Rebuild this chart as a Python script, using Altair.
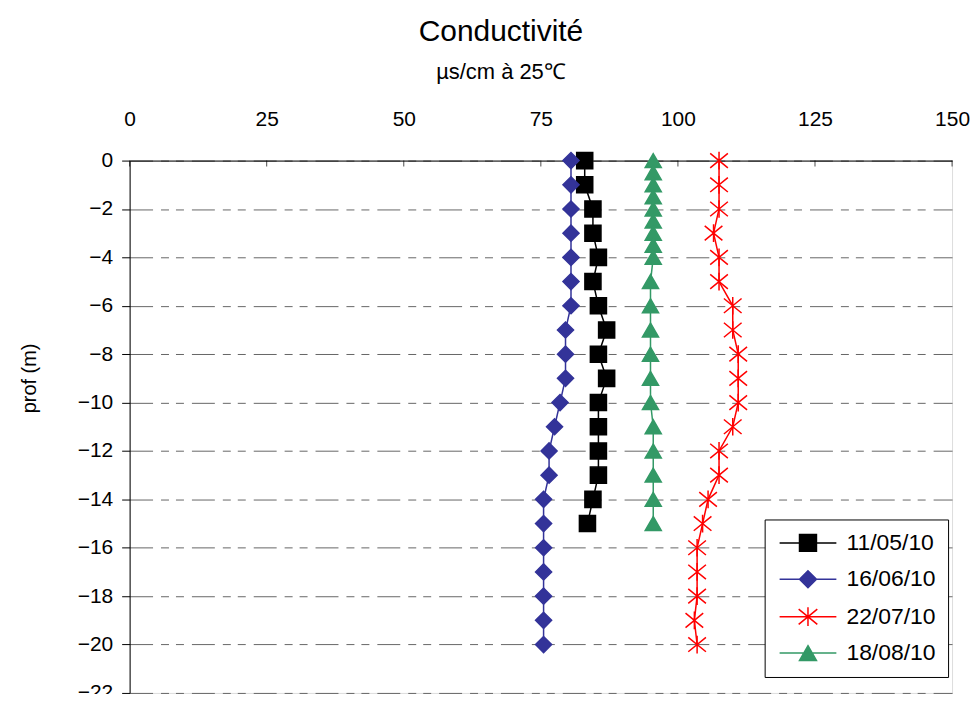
import altair as alt
import pandas as pd

FONT = "Liberation Sans"

series_names = ["11/05/10", "16/06/10", "22/07/10", "18/08/10"]
series_colors = ["#000000", "#333399", "#FF0000", "#339966"]
STAR = "M-1.1,-0.9L1.1,0.9M-1.1,0.9L1.1,-0.9M0,-1.1V1.1"
series_shapes = ["square", "diamond", STAR, "triangle-up"]
# legend symbols: a line with the marker in its middle
legend_shapes = [
    "M-1,0H5.7M1.35,-1H3.35V1H1.35Z",
    "M-1,0H5.7M1.35,0L2.35,-1L3.35,0L2.35,1Z",
    "M-1,0H5.7M1.25,-0.9L3.45,0.9M1.25,0.9L3.45,-0.9M2.35,-1.1V1.1",
    "M-1,0H5.7M2.35,-0.866L3.35,0.866L1.35,0.866Z",
]

x_ticks = [0, 25, 50, 75, 100, 125, 150]
y_ticks = [0, -2, -4, -6, -8, -10, -12, -14, -16, -18, -20, -22]

depth_1105 = [0, -1, -2, -3, -4, -5, -6, -7, -8, -9, -10, -11, -12, -13, -14, -15]
cond_1105 = [83, 83, 84.5, 84.5, 85.5, 84.5, 85.5, 87, 85.5, 87, 85.5, 85.5,
             85.5, 85.5, 84.5, 83.5]

depth_1606 = [0, -1, -2, -3, -4, -5, -6, -7, -8, -9, -10, -11, -12, -13, -14,
              -15, -16, -17, -18, -19, -20]
cond_1606 = [80.5, 80.5, 80.5, 80.5, 80.5, 80.5, 80.5, 79.5, 79.5, 79.5, 78.5,
             77.5, 76.5, 76.5, 75.5, 75.5, 75.5, 75.5, 75.5, 75.5, 75.5]

depth_2207 = [0, -1, -2, -3, -4, -5, -6, -7, -8, -9, -10, -11, -12, -13, -14,
              -15, -16, -17, -18, -19, -20]
cond_2207 = [107.5, 107.5, 107.5, 106.5, 107.5, 107.5, 110, 110, 111, 111, 111,
             110, 107.5, 107.5, 105.5, 104.5, 103.5, 103.5, 103.5, 103, 103.5]

depth_1808 = [0, -0.5, -1, -1.5, -2, -2.5, -3, -3.5, -4, -5, -6, -7, -8, -9,
              -10, -11, -12, -13, -14, -15]
cond_1808 = [95.5, 95.5, 95.5, 95.5, 95.5, 95.5, 95.5, 95.5, 95.5, 95, 95, 95,
             95, 95, 95, 95.5, 95.5, 95.5, 95.5, 95.5]

rows = []
for name, depths, vals in zip(series_names,
                              [depth_1105, depth_1606, depth_2207, depth_1808],
                              [cond_1105, cond_1606, cond_2207, cond_1808]):
    for i, (d, v) in enumerate(zip(depths, vals)):
        rows.append({"date": name, "idx": i, "depth": d, "cond": v})
df = pd.DataFrame(rows)
ticks_df = pd.DataFrame({"t": x_ticks})

x_enc = alt.X("cond:Q", scale=alt.Scale(domain=[0, 150], nice=False, zero=False),
              axis=alt.Axis(orient="top", values=x_ticks, ticks=False, grid=False,
                            title=None, labelFontSize=21, labelFont=FONT,
                            labelColor="black", labelPadding=31, labelFlush=False,
                            domainColor="black", domainWidth=1))
y_enc = alt.Y("depth:Q", scale=alt.Scale(domain=[-22, 0], nice=False, zero=False),
              axis=alt.Axis(values=y_ticks, title="prof (m)", titleFont=FONT,
                            titleFontSize=20, titleFontWeight="normal",
                            titleColor="black", titleAngle=270, titleX=-100,
                            titleY=218, titleAlign="center", titleBaseline="middle",
                            labelFontSize=21, labelFont=FONT, labelColor="black",
                            labelPadding=9, tickSize=8, tickColor="black",
                            domainColor="black", grid=True, gridColor="#666666",
                            gridDash=[23, 8, 8, 7, 8, 8], gridWidth=1))

fill_scale = alt.Scale(domain=series_names, range=series_colors)

lines = alt.Chart(df).mark_line(strokeWidth=1.5).encode(
    x=x_enc, y=y_enc,
    order=alt.Order("idx:Q"),
    color=alt.Color("date:N", scale=fill_scale, legend=None),
)

points = alt.Chart(df).mark_point(filled=True, size=260, strokeWidth=1.5,
                                  opacity=1).encode(
    x=x_enc, y=y_enc,
    fill=alt.Fill("date:N", scale=fill_scale, legend=None),
    stroke=alt.Stroke("date:N", scale=fill_scale, legend=None),
    shape=alt.Shape("date:N",
                    scale=alt.Scale(domain=series_names, range=series_shapes),
                    legend=None),
)

leg = alt.Legend(orient="none", legendX=637, legendY=360, title=None,
                 symbolSize=289, symbolStrokeWidth=1.5, symbolOpacity=1,
                 labelFontSize=23, labelFont=FONT, labelColor="black",
                 labelOffset=47, rowPadding=12.5, padding=12,
                 strokeColor="black", fillColor="white")

legend_layer = alt.Chart(df).transform_filter("false").mark_point(
    filled=True, strokeWidth=1.5, opacity=1).encode(
    x=x_enc, y=y_enc,
    fill=alt.Fill("date:N", scale=fill_scale, legend=leg),
    stroke=alt.Stroke("date:N", scale=fill_scale, legend=leg),
    shape=alt.Shape("date:N",
                    scale=alt.Scale(domain=series_names, range=legend_shapes),
                    legend=leg),
)

xticks_layer = alt.Chart(ticks_df).mark_tick(orient="vertical", size=6,
                                             thickness=1, color="black",
                                             yOffset=3).encode(
    x=alt.X("t:Q"), y=alt.datum(0)
)

chart = alt.layer(xticks_layer, lines, points, legend_layer).resolve_scale(
    fill="independent", stroke="independent", shape="independent"
).properties(
    width=825, height=534,
    title=alt.TitleParams(text="Conductivité", subtitle="µs/cm à 25℃",
                          font=FONT, subtitleFont=FONT, fontSize=30,
                          subtitleFontSize=22, fontWeight="normal",
                          color="black", subtitleColor="black",
                          anchor="middle", dx=-40, offset=26,
                          subtitlePadding=15),
    autosize=alt.AutoSizeParams(type="none"),
    padding={"left": 122, "top": 152, "right": 20, "bottom": 0},
).configure_view(stroke=None).configure(background="white")

chart.save("out.html", embed_options={"renderer": "svg", "actions": False})
